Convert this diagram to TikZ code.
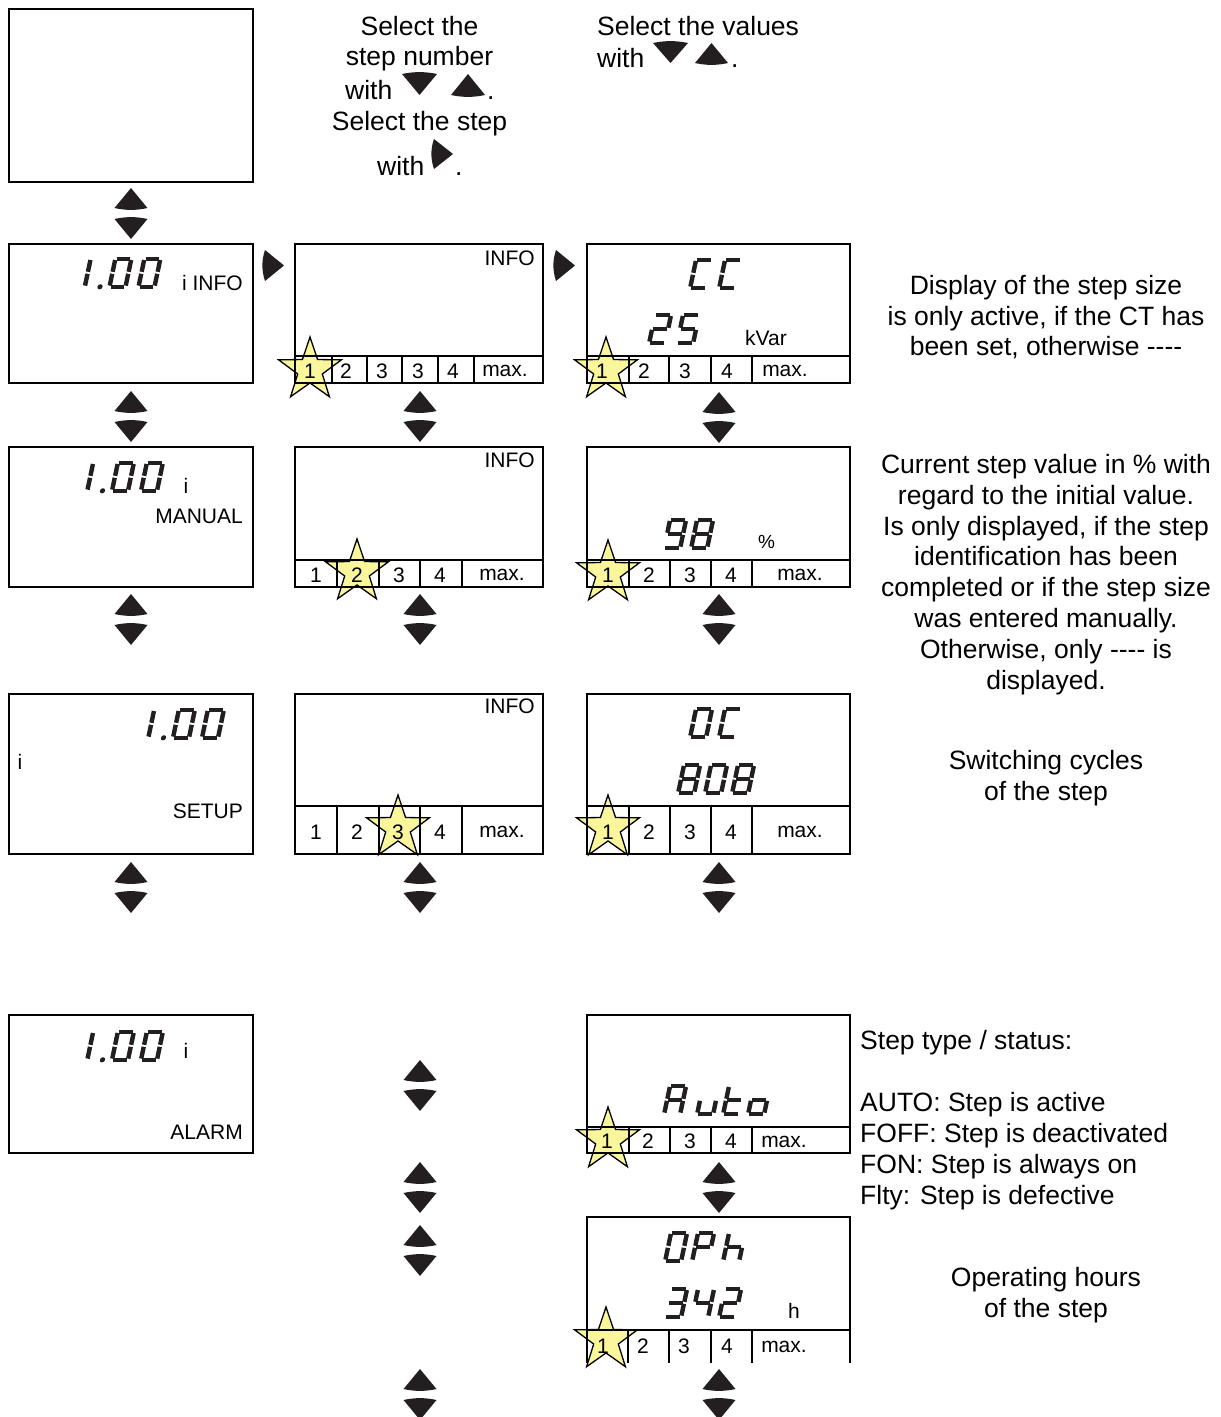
\documentclass[tikz,border=0pt]{standalone}
\usepackage{fontspec}
\setmainfont{Liberation Sans}
\usetikzlibrary{shapes.geometric}
\definecolor{ink}{RGB}{35,31,32}
\definecolor{staryellow}{RGB}{250,246,156}
\tikzset{seg/.style={line width=4.4pt,draw=ink,line cap=butt}}
% seven-segment pieces (local frame, y up, W=16, H=28)
\newcommand\SegA{\draw[seg] (1.2,28)--(14.8,28);}
\newcommand\SegB{\draw[seg] (16,26.8)--(16,15);}
\newcommand\SegC{\draw[seg] (16,13)--(16,1.2);}
\newcommand\SegD{\draw[seg] (1.2,0)--(14.8,0);}
\newcommand\SegE{\draw[seg] (0,13)--(0,1.2);}
\newcommand\SegF{\draw[seg] (0,26.8)--(0,15);}
\newcommand\SegG{\draw[seg] (1.2,14)--(14.8,14);}
\newcommand\Dg[8]{\begin{scope}[xshift=#1pt]\ifnum#2=1 \SegA\fi\ifnum#3=1 \SegB\fi\ifnum#4=1 \SegC\fi\ifnum#5=1 \SegD\fi\ifnum#6=1 \SegE\fi\ifnum#7=1 \SegF\fi\ifnum#8=1 \SegG\fi\end{scope}}
\newcommand\lcd[3]{\begin{scope}[shift={(#1,#2)},x=1pt,y=1pt,xslant=0.21]#3\end{scope}}
\newcommand\oneDot{\Dg{-40.7}0110000\fill[ink] (-9.5,0) circle (2.6);\Dg{0}1111110\Dg{29}1111110}
% triangles
\newcommand\dntri[4]{\fill[ink] (#1-#3,#2) .. controls (#1-#3/3,#2-2.5) and (#1+#3/3,#2-2.5) .. (#1+#3,#2) -- (#1,#2+#4) -- cycle;}
\newcommand\uptri[4]{\fill[ink] (#1,#2) -- (#1+#3,#2+#4) .. controls (#1+#3/3,#2+#4+2.5) and (#1-#3/3,#2+#4+2.5) .. (#1-#3,#2+#4) -- cycle;}
\newcommand\updn[2]{\uptri{#1}{#2}{16.5}{20}\dntri{#1}{#2+31}{16.5}{20}}
\newcommand\rtri[3]{\fill[ink] (#1,#2) -- (#1+19,#2+#3/2) -- (#1,#2+#3) .. controls (#1-3.5,#2+#3*0.66) and (#1-3.5,#2+#3*0.33) .. cycle;}
% display box with bottom strip
\newcommand\dispbox[6]{\draw[box] (#1,#2) rectangle (#3,#4);
  \draw[box] (#1,#5) -- (#3,#5);
  \foreach \dx in {#6} \draw[box] (\dx,#5) -- (\dx,#4);}
\begin{document}
\begin{tikzpicture}[x=1pt,y=-1pt,
  box/.style={line width=2.4pt,draw=black},
  lab/.style={font=\fontsize{21}{25}\selectfont,inner sep=0pt},
  big/.style={font=\fontsize{26.5}{30.7}\selectfont,inner sep=0pt},
  starx/.style={star,star points=5,star point ratio=2.55,minimum size=66pt,inner sep=0pt,draw=black,line width=1.3pt,fill=staryellow}]
\useasboundingbox (0,0) rectangle (1221,1417);

% ---------- stars (under box lines) ----------
\node[starx] (s1) at (310,370) {};
\node[starx] (s2) at (606,370) {};
\node[starx] (s3) at (357,572) {};
\node[starx] (s4) at (608,573) {};
\node[starx] (s5) at (398,828) {};
\node[starx] (s6) at (608,828) {};
\node[starx] (s7) at (608,1140) {};
\node[starx] (s8) at (606,1340) {};

% ---------- left column ----------
\draw[box] (9,9) rectangle (253,182);
\draw[box] (9,244) rectangle (253,383);
\draw[box] (9,447) rectangle (253,587);
\draw[box] (9,694) rectangle (253,854);
\draw[box] (9,1015) rectangle (253,1153);

\lcd{109.5}{286.8}{\oneDot}
\lcd{112}{490.8}{\oneDot}
\lcd{173}{737.8}{\oneDot}
\lcd{112}{1059.8}{\oneDot}

\node[lab,anchor=base east] (l1) at (243,290) {i INFO};
\node[lab,anchor=base] (l2a) at (186,493) {i};
\node[lab,anchor=base east] (l2b) at (243,523) {MANUAL};
\node[lab,anchor=base] (l3a) at (20,769) {i};
\node[lab,anchor=base east] (l3b) at (243,818) {SETUP};
\node[lab,anchor=base] (l4a) at (186,1058) {i};
\node[lab,anchor=base east] (l4b) at (243,1139) {ALARM};

% ---------- middle column ----------
\dispbox{295}{244}{543}{383}{356}{332,367,402,438,474}
\dispbox{295}{447}{543}{587}{560}{337,379,420,462}
\dispbox{295}{694}{543}{854}{806}{337,379,420,462}
\node[lab,anchor=base east] (m1) at (535,265) {INFO};
\node[lab,anchor=base east] (m2) at (535,467) {INFO};
\node[lab,anchor=base east] (m3) at (535,713) {INFO};
\foreach \x/\l [count=\i] in {310/1,346/2,382/3,418/3,453/4,505/max.}
  \node[lab] (ma\i) at (\x,371) {\l};
\foreach \x/\l [count=\i] in {316/1,357/2,399/3,440/4,502/max.}
  \node[lab] (mb\i) at (\x,575) {\l};
\foreach \x/\l [count=\i] in {316/1,357/2,398/3,440/4,502/max.}
  \node[lab] (mc\i) at (\x,832) {\l};

% ---------- right column ----------
\dispbox{587}{244}{850}{383}{356}{629,669,711,752}
\dispbox{587}{447}{850}{587}{560}{629,670,711,752}
\dispbox{587}{694}{850}{854}{806}{629,670,711,752}
\dispbox{587}{1015}{850}{1153}{1127}{629,670,711,752}
\draw[box] (587,1363) -- (587,1217) -- (850,1217) -- (850,1363);
\draw[box] (587,1330) -- (850,1330);
\foreach \dx in {628,669,711,752} \draw[box] (\dx,1330) -- (\dx,1363);

\foreach \x/\l [count=\i] in {602/1,644/2,685/3,727/4,785/max.}
  \node[lab] (ra\i) at (\x,371) {\l};
\foreach \x/\l [count=\i] in {608/1,649/2,690/3,731/4,800/max.}
  \node[lab] (rb\i) at (\x,575) {\l};
\foreach \x/\l [count=\i] in {608/1,649/2,690/3,731/4,800/max.}
  \node[lab] (rc\i) at (\x,832) {\l};
\foreach \x/\l [count=\i] in {607/1,648/2,690/3,731/4,784/max.}
  \node[lab] (rd\i) at (\x,1141.5) {\l};
\foreach \x/\l [count=\i] in {603/1,643/2,684/3,727/4,784/max.}
  \node[lab] (re\i) at (\x,1346.5) {\l};

% seven-segment readouts
\lcd{690.2}{287.8}{\Dg{0}1001110\Dg{29}1001110}            % CC
\lcd{649.2}{342.8}{\Dg{0}1101101\Dg{28}1011011}            % 25
\lcd{664.2}{547.8}{\Dg{0}1111011\Dg{27}1111111}            % 98
\lcd{690.2}{736.8}{\Dg{0}1111110\Dg{29}1001110}            % 0C
\lcd{678.2}{792.8}{\Dg{0}1111111\Dg{27}1111110\Dg{54}1111111} % 808
\lcd{664.2}{1113.8}{\Dg{0}1110111\Dg{33}0011100\Dg{59}0001111\Dg{84}0011101} % Auto
\lcd{665.2}{1260.8}{\Dg{0}1111110\Dg{27}1100111\Dg{58}0010111} % 0Ph
\lcd{665.2}{1316.8}{\Dg{0}1111001\Dg{27}0110011\Dg{54}1101101} % 342

\node[lab,anchor=base west] (u1) at (745,345) {kVar};
\node[font=\fontsize{19}{22}\selectfont,inner sep=0pt,anchor=base west] (u2) at (758,548) {\%};
\node[lab,anchor=base west] (u3) at (788,1318) {h};

% ---------- right-pointing triangles ----------
\rtri{265}{250}{31}
\rtri{556}{250}{31}

% ---------- up/down arrow pairs ----------
\updn{131}{188}
\updn{131}{391}
\updn{131}{594}
\updn{131}{862}
\updn{420}{391}
\updn{420}{594}
\updn{420}{862}
\updn{420}{1060}
\updn{420}{1162}
\updn{420}{1225}
\updn{420}{1369}
\updn{719}{392}
\updn{719}{594}
\updn{719}{862}
\updn{719}{1162}
\updn{719}{1369}

% ---------- top instructions ----------
\node[big,anchor=base] (t1) at (419.5,35) {Select the};
\node[big,anchor=base] (t2) at (419.5,65) {step number};
\node[big,anchor=base west] (t3) at (345,99) {with};
\dntri{419.5}{74}{17.5}{21}
\uptri{468}{74}{17}{21}
\node[big,anchor=base west] (t3b) at (487,99) {.};
\node[big,anchor=base] (t4) at (419.5,130) {Select the step};
\node[big,anchor=base west] (t5) at (377,175) {with};
\rtri{434}{139}{30}
\node[big,anchor=base west] (t5b) at (455,175) {.};

\node[big,anchor=base west] (v1) at (597,35) {Select the values};
\node[big,anchor=base west] (v2) at (597,67) {with};
\dntri{670.5}{43}{17.5}{20}
\uptri{711.5}{43}{16.5}{20}
\node[big,anchor=base west] (v2b) at (731,67) {.};

% ---------- explanations ----------
\foreach \t [count=\i] in {{Display of the step size},{is only active, if the CT has},{been set, otherwise -{}-{}-{}-}}
  \node[big,anchor=base] (d\i) at (1046,{294.5+30.7*(\i-1)}) {\t};
\foreach \t [count=\i] in {{Current step value in \% with},{regard to the initial value.},{Is only displayed, if the step},{identification has been},{completed or if the step size},{was entered manually.},{Otherwise, only -{}-{}-{}- is},{displayed.}}
  \node[big,anchor=base] (c\i) at (1046,{473.5+30.8*(\i-1)}) {\t};
\node[big,anchor=base] (w1) at (1046,769.5) {Switching cycles};
\node[big,anchor=base] (w2) at (1046,800.5) {of the step};
\node[big,anchor=base west] (k0) at (860,1049.5) {Step type / status:};
\foreach \t [count=\i] in {{AUTO: Step is active},{FOFF: Step is deactivated},{FON: Step is always on},{Flty: Step is defective}}
  \node[big,anchor=base west] (k\i) at (860,{1111.5+31*(\i-1)}) {\t};
\node[big,anchor=base] (o1) at (1046,1286.5) {Operating hours};
\node[big,anchor=base] (o2) at (1046,1317.5) {of the step};
\end{tikzpicture}
\end{document}
